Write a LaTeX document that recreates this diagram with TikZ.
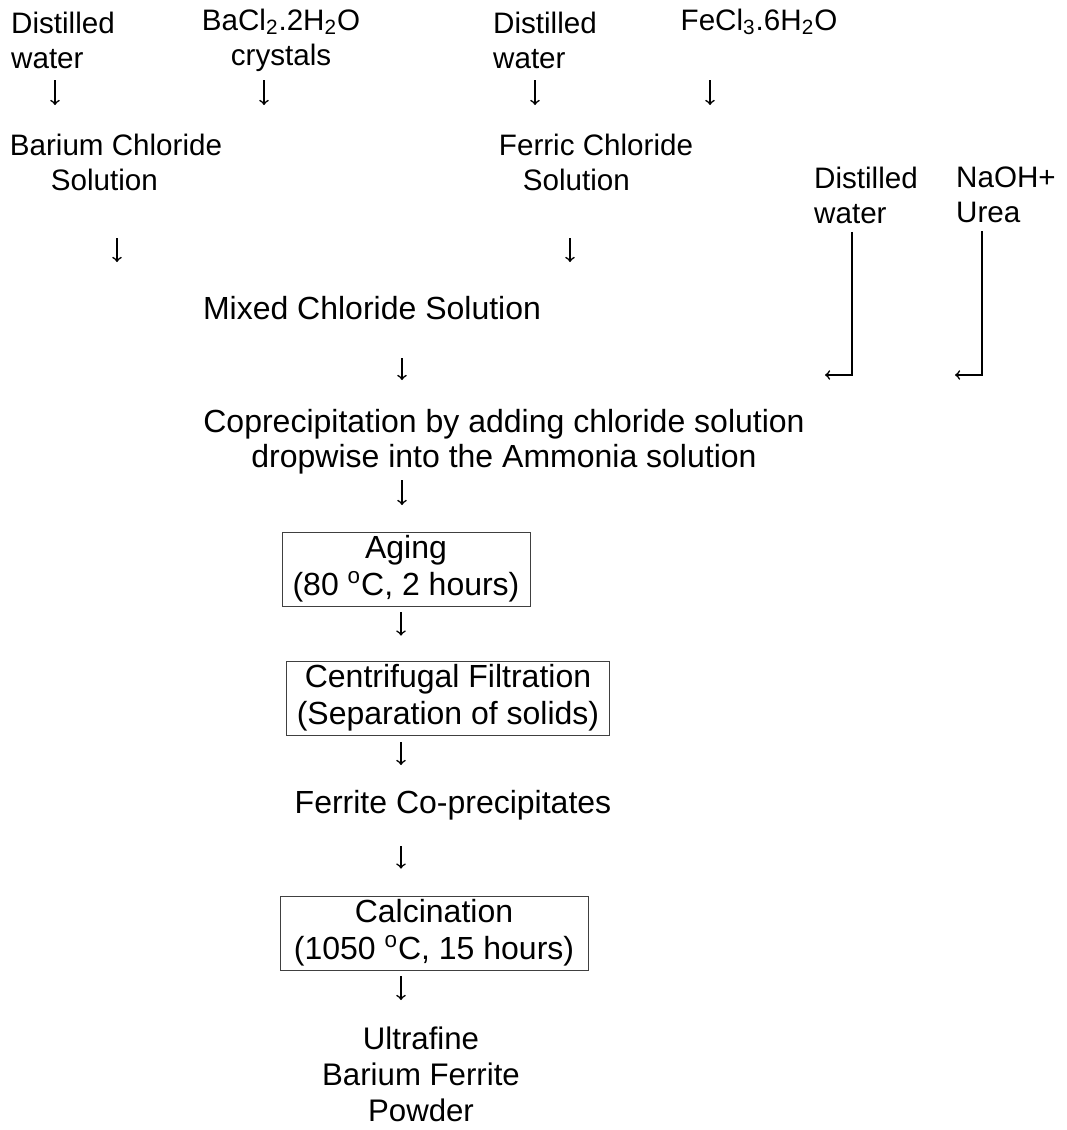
\documentclass[tikz,border=0pt]{standalone}
\usepackage{fontspec}
\setmainfont{Liberation Sans}
\usepackage{tikz}
\usetikzlibrary{arrows,positioning}

\begin{document}
\begin{tikzpicture}[
x=0.5pt,y=-0.5pt,
txt/.style={
inner sep=0pt,
font=\fontsize{14.8}{17.5}\selectfont
},
midtxt/.style={
inner sep=0pt,
font=\fontsize{16}{17.5}\selectfont
},
stage/.style={
rectangle,
inner sep=0pt,
thin,
draw=black!75,
minimum height=37pt,
font=\fontsize{16}{18.5}\selectfont
},
flow/.style={->,line width=0.8pt}]

\useasboundingbox (0,0) rectangle (1066,1130);

% starting materials
\node[txt,align=left] (dw1) at (63,40) {Distilled\\ water};
\node[txt,align=center] (bacl2) at (281,40) {BaCl\textsubscript{2}.2H\textsubscript{2}O\\crystals};
\node[txt,align=left] (dw2) at (545,40) {Distilled\\ water};
\node[txt] (fecl3) at (759,22) {FeCl\textsubscript{3}.6H\textsubscript{2}O};

\node[txt,align=left] (bacl) at (116,162) {Barium Chloride\\\hspace{20.5pt}Solution};
\node[txt,align=left] (fecl) at (596,162) {Ferric Chloride\\\hspace{12pt}Solution};
\node[txt,align=left] (dw3) at (866,195) {Distilled\\ water};
\node[txt,align=left] (naoh) at (1006,195) {NaOH+\\Urea};

% main line
\node[midtxt] (mixed) at (372,308) {Mixed Chloride Solution};
\node[midtxt,align=center] (coprec) at (504,442) {Coprecipitation by adding chloride solution\\dropwise into the Ammonia solution};
\node[stage,minimum width=124pt,align=center] (aging) at (406,569) {Aging\\(80 \textsuperscript{o}C, 2 hours)};
\node[stage,minimum width=161.5pt,align=center] (centri) at (448,698) {Centrifugal Filtration\\(Separation of solids)};
\node[midtxt] (ferrite) at (453,805) {Ferrite Co-precipitates};
\node[stage,minimum width=154pt,align=center] (calc) at (434,933) {Calcination\\(1050 \textsuperscript{o}C, 15 hours)};
\node[txt,font=\fontsize{15.6}{18}\selectfont,align=center] (ultra) at (421,1074) {Ultrafine\\Barium Ferrite\\Powder};

\coordinate (dw3end) at (825,375);
\coordinate (naohend) at (955,375);

\draw[flow,shorten <=20pt,shorten >=28.5pt] ([xshift=-4pt]dw1.center) -- ([xshift=-4pt]dw1.center |- bacl.center);
\draw[flow,shorten <=20pt,shorten >=28.5pt] ([xshift=-8.5pt]bacl2.center) -- ([xshift=-8.5pt]bacl2.center |- bacl.center);
\draw[flow,shorten <=20pt,shorten >=28.5pt] ([xshift=-5pt]dw2.center) -- ([xshift=-5pt]dw2.center |- fecl.center);
\draw[flow,shorten <=29pt,shorten >=28.5pt] ([xshift=-24.5pt]fecl3.center) -- ([xshift=-24.5pt]fecl3.center |- fecl.center);

\draw[flow,shorten <=38pt,shorten >=23pt] ([xshift=0.5pt]bacl.center) -- ([xshift=0.5pt]bacl.center |- mixed.center);
\draw[flow,shorten <=38pt,shorten >=23pt] ([xshift=-13pt]fecl.center) -- ([xshift=-13pt]fecl.center |- mixed.center);

\draw[flow,shorten <=4pt] ([xshift=-7pt]dw3.south) |- (dw3end);
\draw[flow,shorten <=4pt] ([xshift=-12pt]naoh.south) |- (naohend);

\draw[flow,shorten <=25pt,shorten >=31pt] ([xshift=15pt]mixed.center) -- ([xshift=15pt]mixed.center |- coprec.center);
\draw[flow,shorten <=19pt,shorten >=32pt] ([xshift=-2pt]aging.center |- coprec.center) -- ([xshift=-2pt]aging.center);
\draw[flow,shorten <=3pt,shorten >=12.5pt] ([xshift=-2.5pt]aging.south) -- ([xshift=-2.5pt]aging.south |- centri.north);
\draw[flow,shorten <=3.5pt,shorten >=20pt] ([xshift=-23.5pt]centri.south) -- ([xshift=-23.5pt]centri.south |- ferrite.center);
\draw[flow,shorten <=20.5pt,shorten >=13.5pt] ([xshift=-26pt]ferrite.center) -- ([xshift=-26pt]ferrite.center |- calc.north);
\draw[flow,shorten <=3pt,shorten >=37pt] ([xshift=-16.5pt]calc.south) -- ([xshift=-16.5pt]calc.south |- ultra.center);

\end{tikzpicture}
\end{document}
